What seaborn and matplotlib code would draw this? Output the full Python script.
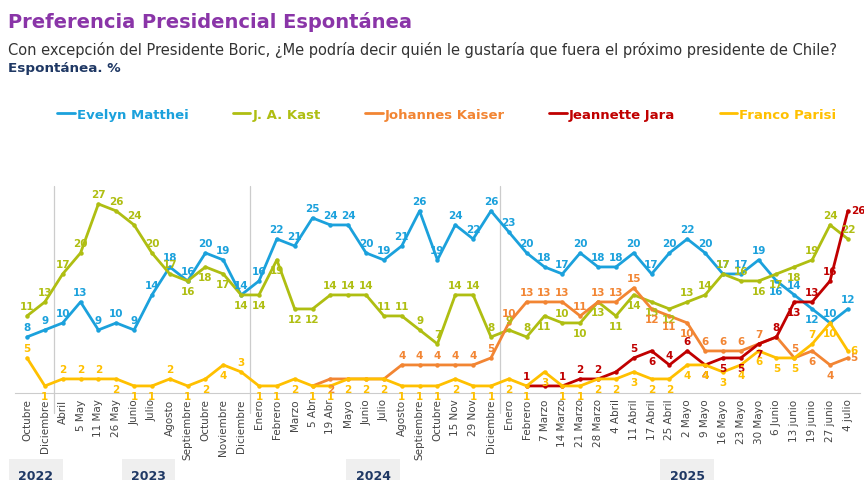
import numpy as np
import pandas as pd
import matplotlib
matplotlib.use("Agg")
import matplotlib.pyplot as plt
import seaborn as sns
from matplotlib.lines import Line2D

# --- data ---
fechas = ["Octubre", "Diciembre",
          "Abril", "5 May", "11 May", "26 May", "Junio", "Julio", "Agosto", "Septiembre",
          "Octubre", "Noviembre", "Diciembre",
          "Enero", "Febrero", "Marzo", "5 Abr", "19 Abr", "Mayo", "Junio", "Julio", "Agosto",
          "Septiembre", "Octubre", "15 Nov", "29 Nov", "Diciembre",
          "Enero", "Febrero", "7 Marzo", "14 Marzo", "21 Marzo", "28 Marzo", "4 Abril", "11 Abril",
          "17 Abril", "25 Abril", "2 Mayo", "9 Mayo", "16 Mayo", "23 Mayo", "30 Mayo", "6 Junio",
          "13 junio", "19 junio", "27 junio", "4 julio"]

anios = ["2022", "2023", "2024", "2025"]
separadores = [1.5, 12.5, 26.5]          # year boundaries (between categories)
anio_pos = [0.5, 6.8, 19.4, 37.0]         # where each year box sits (category units)

matthei = [8, 9,
           10, 13, 9, 10, 9, 14, 18, 16, 20, 19, 14,
           16, 22, 21, 25, 24, 24, 20, 19, 21, 26, 19, 24, 22, 26,
           23, 20, 18, 17, 20, 18, 18, 20, 17, 20, 22, 20, 17, 17, 19, 16, 14, 12, 10, 12]
kast = [11, 13,
        17, 20, 27, 26, 24, 20, 17, 16, 18, 17, 14,
        14, 19, 12, 12, 14, 14, 14, 11, 11, 9, 7, 14, 14, 8,
        9, 8, 11, 10, 10, 13, 11, 14, 13, 12, 13, 14, 17, 16, 16, 17, 18, 19, 24, 22]
kaiser = [None, None,
          None, None, None, None, None, None, None, None, None, None, None,
          None, None, None, 1, 2, 2, 2, 2, 4, 4, 4, 4, 4, 5,
          10, 13, 13, 13, 11, 13, 13, 15, 12, 11, 10, 6, 6, 6, 7, 8, 5, 6, 4, 5]
jara = [None] * 28 + [1, 1, 1, 2, 2, 3, 5, 6, 4, 6, 4, 5, 5, 7, 8, 13, 13, 16, 26]
parisi = [5, 1,
          2, 2, 2, 2, 1, 1, 2, 1, 2, 4, 3,
          1, 1, 2, 1, 1, 2, 2, 2, 1, 1, 1, 2, 1, 1,
          2, 1, 3, 1, 1, 2, 2, 3, 2, 2, 4, 4, 3, 4, 6, 5, 5, 7, 10, 6]

candidatos = ["Evelyn Matthei", "J. A. Kast", "Johannes Kaiser", "Jeannette Jara", "Franco Parisi"]
colores = ["#1BA1DC", "#AFBE12", "#F28533", "#C00000", "#FFC000"]
series = [matthei, kast, kaiser, jara, parisi]

# label placement per point: a=above, b=below, r=right, n=none
# (2022 | 2023 | 2024 | 2025)
pos_labels = {
    "Evelyn Matthei":  "aa" + "a" * 11 + "a" * 14 + "a" * 15 + "baba" + "a",
    "J. A. Kast":      "aa" + "aaaaaaabbbbbb" + "bbaaaaaaaaaaaa" + "babbbbbbaaaabbbaaaaar",
    "Johannes Kaiser": "nn" + "n" * 11 + "nnnnbnnnaaaaaa" + "aaaaaaaabbbaaaanabbr",
    "Jeannette Jara":  "n" * 28 + "anaaanabaabbbbabaar",
    "Franco Parisi":   "ab" + "aaabbbabbba" + "b" * 14 + "b" * 17 + "abr",
}

x = np.arange(len(fechas))
df = pd.concat([pd.DataFrame({"x": x, "valor": [np.nan if v is None else v for v in s], "candidato": c})
                for c, s in zip(candidatos, series)], ignore_index=True)

sns.set_theme(style="white")
plt.rcParams["font.family"] = ["DejaVu Sans"]

fig = plt.figure(figsize=(8.64, 4.81), dpi=100)
ax = fig.add_axes([0.0168, 0.181, 0.979, 0.422])

sns.lineplot(data=df.dropna(), x="x", y="valor", hue="candidato", hue_order=candidatos,
             palette=colores, marker="o", markersize=3.2, markeredgewidth=0,
             linewidth=2.0, legend=False, ax=ax, sort=True)

# data labels
for c, s, col in zip(candidatos, series, colores):
    code = pos_labels[c]
    for i, v in enumerate(s):
        if v is None or code[i] == "n":
            continue
        if code[i] == "a":
            off, ha, va = (0, 3.5), "center", "bottom"
        elif code[i] == "b":
            off, ha, va = (0, -3.5), "center", "top"
        else:
            off, ha, va = (2, 1), "left", "center"
        ax.annotate(str(v), (i, v), xytext=off, textcoords="offset points",
                    ha=ha, va=va, fontsize=7.5, fontweight="bold", color=col)

ax.set_xlim(-0.7, len(fechas) - 0.3)
ax.set_ylim(0, 29)
ax.set_xticks(x)
ax.set_xticklabels(fechas, rotation=90, fontsize=7.5, color="#444444")
ax.set_xticks(np.arange(-0.5, len(fechas), 1), minor=True)
ax.tick_params(axis="x", which="major", length=0, pad=4)
ax.tick_params(axis="x", which="minor", length=3, color="#bbbbbb", width=0.8)
ax.set_yticks([])
ax.set_xlabel("")
ax.set_ylabel("")
for sp in ["top", "right", "left"]:
    ax.spines[sp].set_visible(False)
ax.spines["bottom"].set_color("#cccccc")
ax.spines["bottom"].set_linewidth(0.8)

for s in separadores:
    ax.axvline(s, ymin=-0.1, ymax=1.02, color="#cccccc", linewidth=0.9, clip_on=False, zorder=0)

# year boxes under the axis
for a, p in zip(anios, anio_pos):
    ax.text(p, -0.405, a, transform=ax.get_xaxis_transform(), ha="center", va="center",
            fontsize=9, fontweight="bold", color="#1F3864",
            bbox=dict(boxstyle="square,pad=0.75", fc="#efefef", ec="none"))

# titles
fig.text(0.009, 0.955, "Preferencia Presidencial Espontánea", fontsize=14, fontweight="bold",
         color="#8A35A8", ha="left", va="center")
fig.text(0.009, 0.897, "Con excepción del Presidente Boric, ¿Me podría decir quién le gustaría que fuera el próximo presidente de Chile?",
         fontsize=10.5, color="#333333", ha="left", va="center")
fig.text(0.009, 0.858, "Espontánea. %", fontsize=9.7, fontweight="bold", color="#1F3864",
         ha="left", va="center")

# legend
handles = [Line2D([0], [0], color=col, lw=2) for col in colores]
leg = fig.legend(handles, candidatos, loc="center", bbox_to_anchor=(0.517, 0.76), ncol=5,
                 frameon=False, handlelength=1.3, handletextpad=0.15, columnspacing=3.4,
                 labelcolor=colores, prop={"weight": "bold", "size": 9.5})

fig.savefig("out.png", dpi=100)
